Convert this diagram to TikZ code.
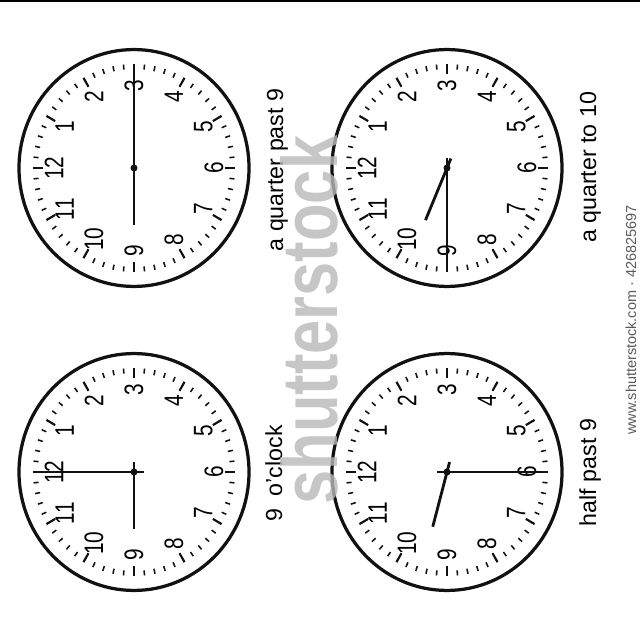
\documentclass[tikz,border=0pt]{standalone}
\usepackage{fontspec}
\setmainfont{Liberation Sans}
\newfontfamily\dialfont[FakeStretch=0.78]{Liberation Sans}
\newfontfamily\markfont[FakeStretch=0.78]{Liberation Sans}
\usepackage{xcolor}
\usepackage{tikz}
\definecolor{ClkInk}{HTML}{111111}
\definecolor{ClkMark}{HTML}{B8B8B8}
\definecolor{ClkUrl}{HTML}{5A5A5A}

\begin{document}
\begin{tikzpicture}[x=0.025cm,y=0.025cm,
  rim/.style={draw=ClkInk,line width=2.3pt},
  hourtick/.style={draw=ClkInk,line width=1.5pt},
  mintick/.style={draw=ClkInk,line width=1.1pt},
  hourhand/.style={draw=ClkInk,line width=2pt},
  minhand/.style={draw=ClkInk,line width=1.3pt},
  numeral/.style={font=\dialfont\fontsize{19}{21}\selectfont,rotate=90,inner sep=0pt},
  caption/.style={font=\fontsize{16.5}{18}\selectfont,rotate=90,anchor=base,inner sep=0pt}]
  \useasboundingbox (0,0) rectangle (640,640);
  \fill[black] (0,637.5) rectangle (640,640);
  % four dials: name / centre / minute hand / hour hand
  \foreach \c/\cx/\cy/\mn/\hr in {tl/134/472/90/-90, tr/447/472/-90/-113,
                                  bl/134/168/180/-90, br/447/168/0/-105} {
    \begin{scope}[shift={(\cx,\cy)},yscale=1.03]
      \coordinate (hub-\c) at (0,0);
      \draw[rim] (hub-\c) circle (115);
      \foreach \a in {0,6,...,354}
        \draw[mintick] (\a:96) -- (\a:101);
      \foreach \h in {1,...,12} {
        \draw[hourtick] ({180-30*\h}:91) -- ({180-30*\h}:101);
        \node[numeral] (n-\c-\h) at ({180-30*\h}:80) {\h};
      }
      \draw[hourhand] (hub-\c) ++(\hr+180:10) -- (\hr:55);
      \draw[minhand] (hub-\c) ++(\mn+180:10) -- (\mn:97);
      \fill[ClkInk] (hub-\c) circle (3.5);
    \end{scope}
  }
  \node[caption] (cap-tl) at (283,470) {a quarter past 9};
  \node[caption] (cap-tr) at (596,472.5) {a quarter to 10};
  \node[caption] (cap-bl) at (282,166.5) {9\ \ o'clock};
  \node[caption] (cap-br) at (596,167.5) {half past 9};
  % watermark
  \node[font=\markfont\bfseries\fontsize{56}{60}\selectfont,text=ClkMark,
        rotate=90,anchor=base,inner sep=0pt,opacity=0.8] (mark) at (337,320) {shutterstock};
  \node[font=\fontsize{10.3}{12}\selectfont,text=ClkUrl,rotate=90,anchor=base,
        inner sep=0pt] (url) at (636,320) {www.shutterstock.com · 426825697};
\end{tikzpicture}
\end{document}
